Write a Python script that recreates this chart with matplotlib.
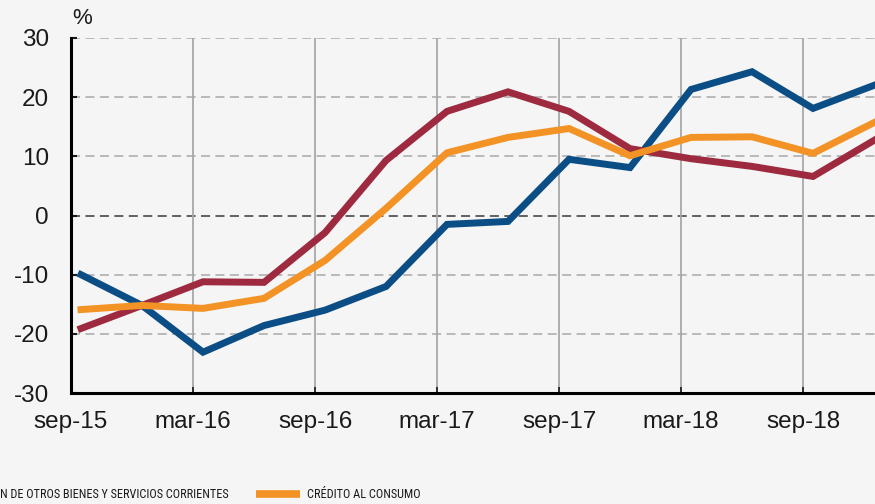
import matplotlib
matplotlib.use('Agg')
import matplotlib.pyplot as plt
from matplotlib import font_manager

# datos trimestrales, sep-15 a dic-18
quarters = ['sep-15', 'dic-15', 'mar-16', 'jun-16', 'sep-16', 'dic-16', 'mar-17',
            'jun-17', 'sep-17', 'dic-17', 'mar-18', 'jun-18', 'sep-18', 'dic-18']
tick_labels = ['sep-15', 'mar-16', 'sep-16', 'mar-17', 'sep-17', 'mar-18', 'sep-18']

azul = [-10.0, -15.2, -23.1, -18.6, -16.0, -12.0, -1.5, -1.0, 9.5, 8.1, 21.3, 24.3, 18.1, 22.0]
rojo = [-19.1, -15.2, -11.2, -11.3, -2.9, 9.3, 17.6, 20.9, 17.6, 11.3, 9.6, 8.3, 6.6, 12.7]
naranja = [-15.9, -15.2, -15.7, -14.0, -7.6, 1.2, 10.6, 13.2, 14.7, 10.1, 13.2, 13.3, 10.5, 15.7]

legend_1 = 'N DE OTROS BIENES Y SERVICIOS CORRIENTES'
legend_2 = 'CRÉDITO AL CONSUMO'

c_azul = '#0b4d85'
c_rojo = '#9e2a3f'
c_naranja = '#f39325'
bg = '#f5f5f5'

# buscar una fuente estrecha para la leyenda
narrow_fp = None
cands = []
for f in font_manager.fontManager.ttflist:
    name = f.name.lower()
    st = str(f.stretch).lower()
    if ('narrow' in name or 'condensed' in name or 'condensed' in st) and f.weight in (400, 'normal', 'regular') and f.style == 'normal':
        cands.append(f)
cands.sort(key=lambda f: (0 if 'liberation' in f.name.lower() else 1 if 'roboto' in f.name.lower() else 2))
if cands:
    narrow_fp = font_manager.FontProperties(fname=cands[0].fname)
else:
    narrow_fp = font_manager.FontProperties(family='Liberation Sans')

plt.rcParams['font.family'] = ['Liberation Sans', 'DejaVu Sans']

fig = plt.figure(figsize=(8.75, 5.04), dpi=100, facecolor=bg)
ax = fig.add_axes([71 / 875, 1 - 393 / 504, 1 - 71 / 875, 355 / 504])
ax.set_facecolor(bg)

x = list(range(len(quarters)))
off = -10 / 61  # las rejillas quedan un poco a la izquierda de los puntos

for vals, col in [(azul, c_azul), (rojo, c_rojo), (naranja, c_naranja)]:
    ax.plot(x, vals, color=col, lw=5.0, solid_joinstyle='miter', zorder=3)

ax.set_xlim(off, 13.016)
ax.set_ylim(-30, 30)

ax.set_yticks(range(-30, 31, 10))
ax.set_yticklabels([str(v) for v in range(-30, 31, 10)], fontsize=17.5)
xt = [2 * i + off for i in range(len(tick_labels))]
ax.set_xticks(xt)
ax.set_xticklabels(tick_labels, fontsize=17.5)
ax.tick_params(axis='y', direction='in', length=4, width=1.5, pad=16, colors='#1a1a1a')
ax.tick_params(axis='x', direction='in', length=4, width=1.2, pad=13, colors='#1a1a1a')

for v in range(-20, 31, 10):
    if v == 0:
        ax.axhline(v, color='#555555', lw=1.3, ls=(0, (5, 3)), zorder=1)
    else:
        ax.axhline(v, color='#b4b4b4', lw=1.3, ls=(0, (5, 3)), zorder=1)
for t in xt[1:]:
    ax.axvline(t, color='#a8a8a8', lw=1.3, zorder=1)

for s in ['top', 'right']:
    ax.spines[s].set_visible(False)
ax.spines['left'].set_linewidth(2.2)
ax.spines['bottom'].set_linewidth(2.2)

fig.text(72 / 875, 1 - 19 / 504, '%', fontsize=16, ha='left', va='center', color='#1a1a1a')

# leyenda (recortada a la izquierda como en el original)
t1 = fig.text(0, 1 - 495 / 504, legend_1, fontsize=15, fontproperties=narrow_fp,
              ha='left', va='center', color='#1a1a1a')
t2 = fig.text(307 / 875, 1 - 495 / 504, legend_2, fontsize=15, fontproperties=narrow_fp,
              ha='left', va='center', color='#1a1a1a')
# ajustar tamaño para que el ancho coincida con el original
r = fig.canvas.get_renderer()
w1 = t1.get_window_extent(renderer=r).width
size = min(15 * 228 / w1, 17)
t1.set_fontsize(size)
t2.set_fontsize(size)
fig.add_artist(plt.Line2D([256 / 875, 300 / 875], [1 - 494 / 504, 1 - 494 / 504],
                          color=c_naranja, lw=5.5, solid_capstyle='butt'))

fig.savefig('out.png', dpi=100, facecolor=bg)
